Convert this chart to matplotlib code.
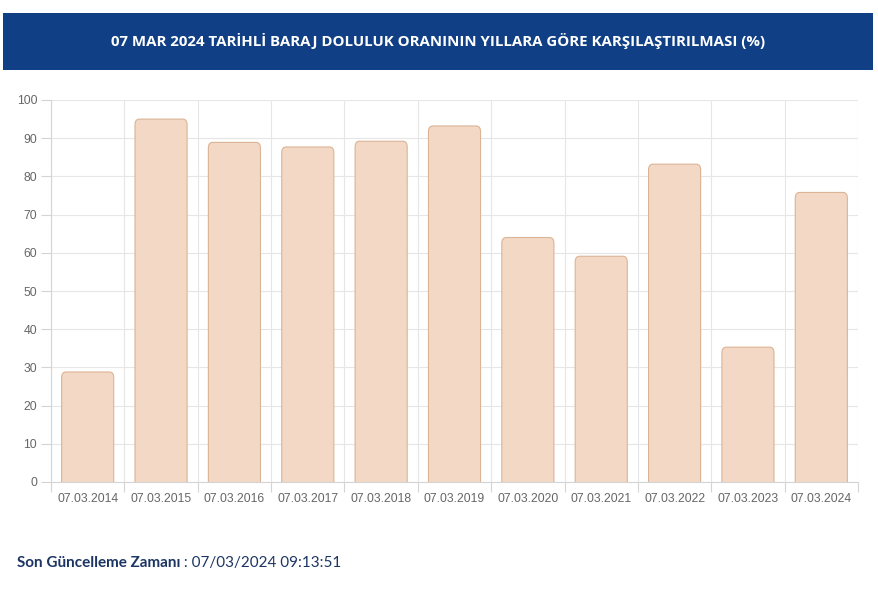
import matplotlib.pyplot as plt
from matplotlib.patches import FancyBboxPatch, Rectangle
import numpy as np

# data
dates = ['07.03.2014', '07.03.2015', '07.03.2016', '07.03.2017', '07.03.2018', '07.03.2019',
         '07.03.2020', '07.03.2021', '07.03.2022', '07.03.2023', '07.03.2024']
fill_pct = [28.8, 95.0, 88.9, 87.7, 89.2, 93.2, 64.0, 59.1, 83.2, 35.3, 75.8]
y_ticks = [0, 10, 20, 30, 40, 50, 60, 70, 80, 90, 100]

title = '07 MAR 2024 TARİHLİ BARAJ DOLULUK ORANININ YILLARA GÖRE KARŞILAŞTIRILMASI (%)'
footer_bold = 'Son Güncelleme Zamanı'
footer_value = ' : 07/03/2024 09:13:51'

W, H = 879, 589
fig = plt.figure(figsize=(W / 100, H / 100), dpi=100)

# header band
fig.patches.append(Rectangle((3 / W, 1 - 70 / H), 870 / W, 57 / H, transform=fig.transFigure,
                             facecolor='#113f85', edgecolor='none', zorder=0))
fig.text(438 / W, 1 - 41 / H, title, color='white', fontsize=10.8, fontweight='bold',
         family='Open Sans', ha='center', va='center')

ax = fig.add_axes([51 / W, 1 - 482 / H, 807 / W, 382 / H])
x = np.arange(len(dates))
bars = ax.bar(x, fill_pct, width=0.71, color='none', edgecolor='none')
# rounded-top bars built from the bar geometry
for b in bars:
    bx, by, bw, bh = b.get_x(), b.get_y(), b.get_width(), b.get_height()
    p = FancyBboxPatch((bx, by - 3), bw, bh + 3,
                       boxstyle='round,pad=0,rounding_size=0.06',
                       mutation_aspect=25,
                       facecolor='#f3d9c5', edgecolor='#dbb395', linewidth=0.8, zorder=2)
    p.set_clip_path(ax.patch)
    ax.add_patch(p)

ax.set_xlim(-0.5, len(dates) - 0.5)
ax.set_ylim(0, 100)
ax.set_yticks(y_ticks)
ax.set_xticks(x)
ax.set_xticklabels(dates)
ax.set_xticks(np.arange(len(dates) + 1) - 0.5, minor=True)

for s in ['top', 'right']:
    ax.spines[s].set_visible(False)
for s in ['left', 'bottom']:
    ax.spines[s].set_color('#d4d4d4')
    ax.spines[s].set_linewidth(0.8)

ax.grid(axis='y', color='#e6e6e6', linewidth=0.8, zorder=0)
ax.grid(axis='x', which='minor', color='#e6e6e6', linewidth=0.8, zorder=0)
ax.set_axisbelow(True)
ax.tick_params(axis='x', which='major', length=0, pad=8, labelsize=8.7, labelcolor='#666666')
ax.tick_params(axis='x', which='minor', length=7, color='#d4d4d4', width=0.8)
ax.tick_params(axis='y', length=7, color='#d4d4d4', width=0.8, pad=3, labelsize=8.7,
               labelcolor='#666666')
for lab in ax.get_xticklabels() + ax.get_yticklabels():
    lab.set_family('Liberation Sans')

# footer
t = fig.text(17 / W, 1 - 563 / H, footer_bold, color='#1c3563', fontsize=11,
             fontweight='bold', family='Lato', va='center')
fig.canvas.draw()
bb = t.get_window_extent()
fig.text(bb.x1 / W, 1 - 563 / H, footer_value, color='#1c3563', fontsize=11,
         family='Lato', va='center')

fig.savefig('out.png', dpi=100)
